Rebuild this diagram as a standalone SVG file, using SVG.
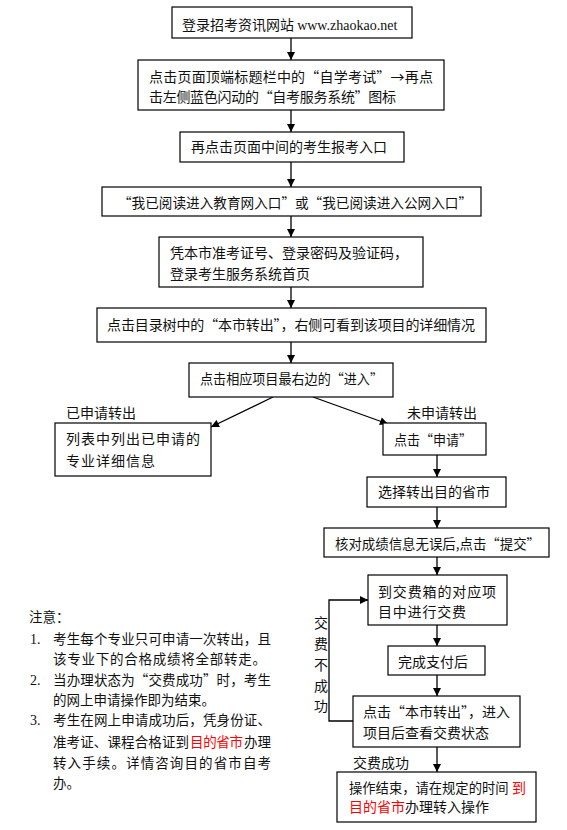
<svg xmlns="http://www.w3.org/2000/svg" width="567" height="830" viewBox="0 0 567 830">
<defs>
<marker id="ah" viewBox="0 0 10 10" refX="10" refY="5" markerWidth="9" markerHeight="8" markerUnits="userSpaceOnUse" orient="auto">
<path d="M0,0 L10,5 L0,10 z" fill="#000"/>
</marker>
<style>
.box{fill:#fff;stroke:#000;stroke-width:1.2}
.t{font-family:"Noto Sans CJK SC","Liberation Serif",serif;font-size:14px;fill:#111}
.n{font-family:"Noto Sans CJK SC","Liberation Serif",serif;font-size:13.5px;fill:#111}
.lat{font-family:"Liberation Serif",serif}
.num{font-family:"Liberation Serif",serif;font-size:14px;fill:#111}
.red{fill:#ff0000}
.c{fill:none;stroke:#000;stroke-width:1.3}
</style>
</defs>
<rect width="567" height="830" fill="#fff"/>
<g id="connectors">
<line class="c" x1="291" y1="38" x2="291" y2="60" marker-end="url(#ah)"/>
<line class="c" x1="291" y1="110" x2="291" y2="132" marker-end="url(#ah)"/>
<line class="c" x1="291" y1="162" x2="291" y2="187" marker-end="url(#ah)"/>
<line class="c" x1="291" y1="216" x2="291" y2="237" marker-end="url(#ah)"/>
<line class="c" x1="291" y1="287" x2="291" y2="308" marker-end="url(#ah)"/>
<line class="c" x1="291" y1="342" x2="291" y2="363" marker-end="url(#ah)"/>
<line class="c" x1="273" y1="397" x2="211" y2="427" marker-end="url(#ah)"/>
<line class="c" x1="313" y1="397" x2="388" y2="424" marker-end="url(#ah)"/>
<line class="c" x1="437" y1="455" x2="437" y2="477" marker-end="url(#ah)"/>
<line class="c" x1="437" y1="507" x2="437" y2="528" marker-end="url(#ah)"/>
<line class="c" x1="437" y1="557" x2="437" y2="575" marker-end="url(#ah)"/>
<line class="c" x1="437" y1="625" x2="437" y2="646" marker-end="url(#ah)"/>
<line class="c" x1="437" y1="675" x2="437" y2="696" marker-end="url(#ah)"/>
<line class="c" x1="437" y1="747" x2="437" y2="772" marker-end="url(#ah)"/>
<polyline class="c" points="353,721 329,721 329,600 368,600" marker-end="url(#ah)"/>
<text class="t" x="66" y="418">已申请转出</text>
<text class="t" x="407" y="418">未申请转出</text>
<text class="t" x="353" y="768">交费成功</text>
<text class="t" x="321" y="628" text-anchor="middle">交</text>
<text class="t" x="321" y="649" text-anchor="middle">费</text>
<text class="t" x="321" y="670" text-anchor="middle">不</text>
<text class="t" x="321" y="691" text-anchor="middle">成</text>
<text class="t" x="321" y="711" text-anchor="middle">功</text>
</g>
<g id="n1"><rect class="box" x="172" y="7" width="240" height="31"/>
<text class="t" x="182" y="30">登录招考资讯网站 <tspan class="lat">www.zhaokao.net</tspan></text></g>
<g id="n2"><rect class="box" x="138" y="60" width="306" height="50"/>
<text class="t" x="149" y="82" textLength="284" lengthAdjust="spacing">点击页面顶端标题栏中的“自学考试”→再点</text>
<text class="t" x="149" y="102" textLength="247" lengthAdjust="spacing">击左侧蓝色闪动的“自考服务系统”图标</text></g>
<g id="n3"><rect class="box" x="180" y="132" width="224" height="30"/>
<text class="t" x="191" y="152">再点击页面中间的考生报考入口</text></g>
<g id="n4"><rect class="box" x="102" y="187" width="379" height="29"/>
<text class="t" x="118" y="208" textLength="354" lengthAdjust="spacingAndGlyphs">“我已阅读进入教育网入口”或“我已阅读进入公网入口”</text></g>
<g id="n5"><rect class="box" x="159" y="237" width="264" height="50"/>
<text class="t" x="170" y="258">凭本市准考证号、登录密码及验证码，</text>
<text class="t" x="170" y="279">登录考生服务系统首页</text></g>
<g id="n6"><rect class="box" x="97" y="308" width="389" height="34"/>
<text class="t" x="107" y="330" textLength="368" lengthAdjust="spacing">点击目录树中的“本市转出”，右侧可看到该项目的详细情况</text></g>
<g id="n7"><rect class="box" x="189" y="363" width="204" height="34"/>
<text class="t" x="200" y="384" textLength="183" lengthAdjust="spacingAndGlyphs">点击相应项目最右边的“进入”</text></g>
<g id="n8"><rect class="box" x="55" y="423" width="156" height="53"/>
<text class="t" x="66" y="444" textLength="134" lengthAdjust="spacing">列表中列出已申请的</text>
<text class="t" x="66" y="466" textLength="89" lengthAdjust="spacing">专业详细信息</text></g>
<g id="n9"><rect class="box" x="383" y="423" width="103" height="32"/>
<text class="t" x="394" y="445" textLength="78" lengthAdjust="spacingAndGlyphs">点击“申请”</text></g>
<g id="n10"><rect class="box" x="367" y="477" width="139" height="30"/>
<text class="t" x="378" y="497">选择转出目的省市</text></g>
<g id="n11"><rect class="box" x="324" y="528" width="225" height="29"/>
<text class="t" x="335" y="549" textLength="205" lengthAdjust="spacingAndGlyphs">核对成绩信息无误后,点击“提交”</text></g>
<g id="n12"><rect class="box" x="368" y="575" width="139" height="50"/>
<text class="t" x="378" y="597" textLength="118" lengthAdjust="spacing">到交费箱的对应项</text>
<text class="t" x="378" y="617" textLength="88" lengthAdjust="spacing">目中进行交费</text></g>
<g id="n13"><rect class="box" x="388" y="646" width="97" height="29"/>
<text class="t" x="398" y="667">完成支付后</text></g>
<g id="n14"><rect class="box" x="353" y="696" width="167" height="51"/>
<text class="t" x="363" y="717" textLength="147" lengthAdjust="spacingAndGlyphs">点击“本市转出”，进入</text>
<text class="t" x="363" y="738">项目后查看交费状态</text></g>
<g id="n15"><rect class="box" x="337" y="772" width="199" height="50"/>
<text class="t" x="349" y="793" style="font-size:13.3px">操作结束，请在规定的时间</text>
<text class="t red" x="512" y="793">到</text>
<text class="t red" x="349" y="812">目的省市</text>
<text class="t" x="405" y="812">办理转入操作</text></g>
<g id="notes">
<text class="n" x="29" y="622">注意：</text>
<text class="num" x="30" y="644">1.</text>
<text class="n" x="53" y="644" textLength="218" lengthAdjust="spacing">考生每个专业只可申请一次转出，且</text>
<text class="n" x="53" y="664" textLength="213" lengthAdjust="spacing">该专业下的合格成绩将全部转走。</text>
<text class="num" x="30" y="685">2.</text>
<text class="n" x="53" y="685" textLength="218" lengthAdjust="spacing">当办理状态为“交费成功”时，考生</text>
<text class="n" x="53" y="705">的网上申请操作即为结束。</text>
<text class="num" x="30" y="725">3.</text>
<text class="n" x="53" y="725" textLength="218" lengthAdjust="spacing">考生在网上申请成功后，凭身份证、</text>
<text class="n" x="53" y="747" textLength="136" lengthAdjust="spacing">准考证、课程合格证到</text>
<text class="n red" x="190" y="747" textLength="53" lengthAdjust="spacing">目的省市</text>
<text class="n" x="244" y="747" textLength="27" lengthAdjust="spacing">办理</text>
<text class="n" x="53" y="768" textLength="218" lengthAdjust="spacing">转入手续。详情咨询目的省市自考</text>
<text class="n" x="53" y="788">办。</text>
</g>
</svg>
